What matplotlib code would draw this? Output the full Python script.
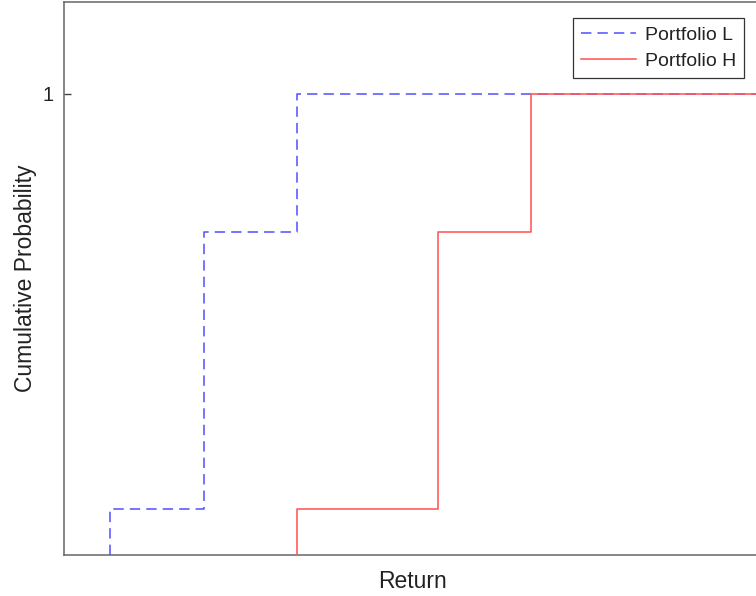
import matplotlib
matplotlib.use("Agg")
import matplotlib.pyplot as plt

plt.rcParams['font.family'] = ['Liberation Sans', 'DejaVu Sans']

# Discrete return outcomes and their cumulative probabilities
returns_L = [1.0, 2.0, 3.0]
cumprob_L = [0.1, 0.7, 1.0]
returns_H = [3.0, 4.5, 5.5]
cumprob_H = [0.1, 0.7, 1.0]

x_min, x_max = 0.5, 7.97
y_min, y_max = 0.0, 1.2
series_labels = ["Portfolio L", "Portfolio H"]
ytick_values = [1]
ytick_labels = ["1"]


def cdf_path(xs, ps, x_end):
    # step path starting at zero probability and running to the right edge
    px = [xs[0]] + list(xs) + [x_end]
    py = [0.0] + list(ps) + [ps[-1]]
    return px, py


fig = plt.figure(figsize=(7.56, 5.96), dpi=100)
ax = fig.add_axes([63.5 / 756, 41 / 596, (762 - 63.5) / 756, (555 - 1.5) / 596])

lx, ly = cdf_path(returns_L, cumprob_L, x_max + 1)
hx, hy = cdf_path(returns_H, cumprob_H, x_max + 1)

ax.step(lx, ly, where='post', color='#5555ff', lw=1.15,
        linestyle=(0, (6.5, 3.8)), label=series_labels[0], zorder=2)
ax.step(hx, hy, where='post', color='#ff5555', lw=1.15,
        label=series_labels[1], zorder=3)

ax.set_xlim(x_min, x_max)
ax.set_ylim(y_min, y_max)

ax.set_xticks([])
ax.set_yticks(ytick_values)
ax.set_yticklabels(ytick_labels)
ax.tick_params(axis='y', direction='in', length=5, width=1, color='#444444',
               labelsize=14.5, pad=7, labelcolor='#222222')

for s in ax.spines.values():
    s.set_color('#666666')
    s.set_linewidth(1.1)

ax.set_xlabel("Return", fontsize=16.5, color='#222222', labelpad=11)
ax.set_ylabel("Cumulative Probability", fontsize=16.5, color='#222222', labelpad=4)

leg = ax.legend(loc='upper right', bbox_to_anchor=(744.3 / 756, 1 - 18.3 / 596),
                bbox_transform=fig.transFigure, borderaxespad=0,
                fontsize=14, handlelength=2.85, handletextpad=0.45,
                labelspacing=0.44, borderpad=0.42, fancybox=False,
                framealpha=1, edgecolor='#333333')
leg.get_frame().set_linewidth(0.9)
for t in leg.get_texts():
    t.set_color('#222222')

fig.savefig("out.png", dpi=100)
